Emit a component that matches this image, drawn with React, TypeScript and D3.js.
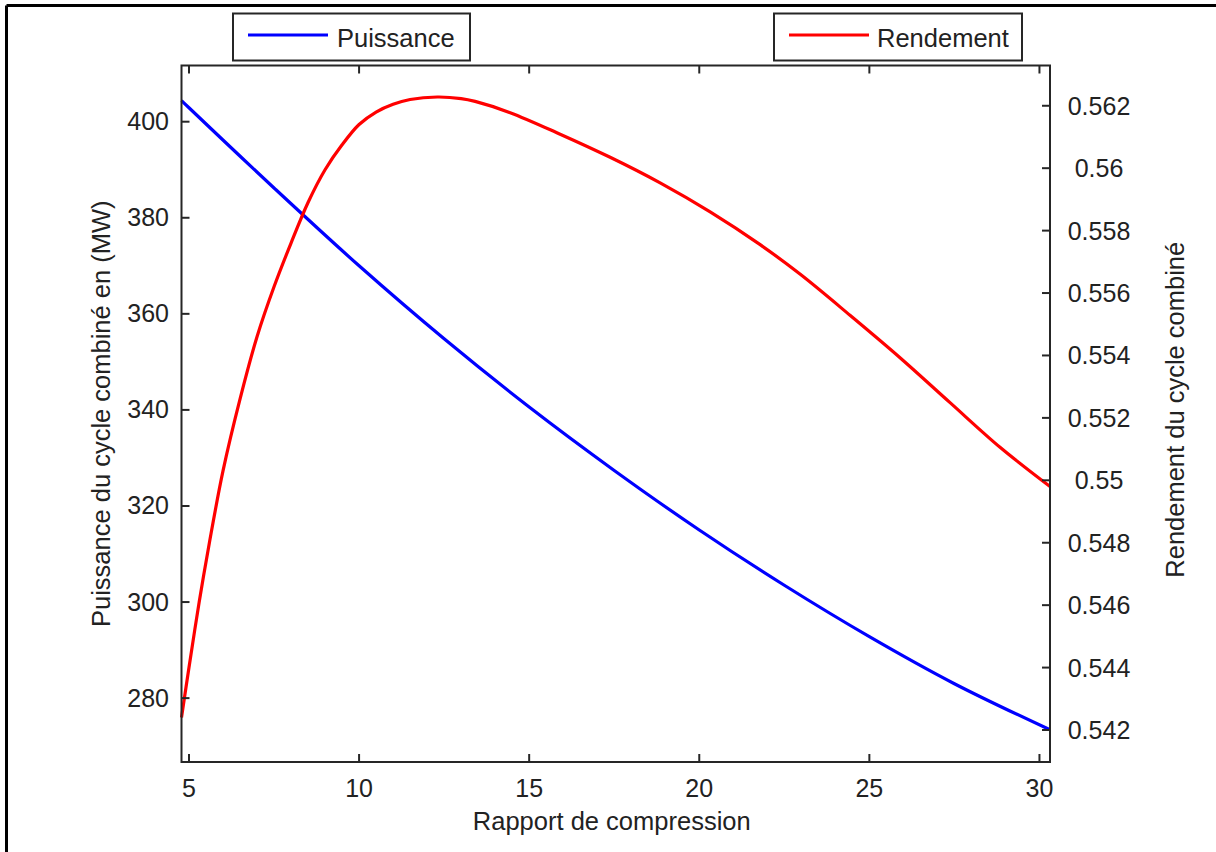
import React from "react";
import * as d3 from "d3";

// ---- Data ----
const puissanceX = [4.78, 5, 7.5, 10, 12.5, 15, 17.5, 20, 22.5, 25, 27.5, 30.31];
const puissanceY = [404.4, 402.9, 386.2, 370.0, 354.8, 340.6, 327.4, 315.0, 303.5, 292.8, 283.0, 273.4];

const rendementX = [4.78, 5.0, 5.3, 5.6, 6.0, 6.5, 7.0, 7.5, 8.0, 8.5, 9.0, 9.5, 10.0, 10.5, 11.0, 11.5, 12.3, 13.0, 13.41, 14.44, 15.91, 17.38, 18.85, 20.32, 21.79, 22.97, 24.44, 25.91, 27.38, 28.85, 30.31];
const rendementY = [0.5424, 0.544, 0.5461, 0.548, 0.5503, 0.5526, 0.5546, 0.5562, 0.5576, 0.5589, 0.55995, 0.56075, 0.5614, 0.5618, 0.56205, 0.5622, 0.56228, 0.56223, 0.56214, 0.56178, 0.56109, 0.56035, 0.55953, 0.5586, 0.55755, 0.5566, 0.55528, 0.55392, 0.55248, 0.55105, 0.5498];

const xTicks = [5, 10, 15, 20, 25, 30];
const leftTicks = [280, 300, 320, 340, 360, 380, 400];
const rightTicks = [0.542, 0.544, 0.546, 0.548, 0.55, 0.552, 0.554, 0.556, 0.558, 0.56, 0.562];
const rightTickLabels = ["0.542", "0.544", "0.546", "0.548", "0.55", "0.552", "0.554", "0.556", "0.558", "0.56", "0.562"];

const seriesNames = ["Puissance", "Rendement"];
const xLabel = "Rapport de compression";
const yLeftLabel = "Puissance du cycle combiné en (MW)";
const yRightLabel = "Rendement du cycle combiné";

export default function App() {
  const W = 1216, H = 852;
  const L = 181.5, R = 1050, T = 65.5, B = 762;
  const x = d3.scaleLinear().domain([4.78, 30.31]).range([L, R]);
  const yL = d3.scaleLinear().domain([266.7, 411.7]).range([B, T]);
  const yR = d3.scaleLinear().domain([0.540975, 0.56329]).range([B, T]);

  const pData = puissanceX.map((v, i) => [v, puissanceY[i]] as [number, number]);
  const rData = rendementX.map((v, i) => [v, rendementY[i]] as [number, number]);

  const lineP = d3.line<[number, number]>().x(d => x(d[0])).y(d => yL(d[1])).curve(d3.curveCatmullRom.alpha(0.5));
  const lineR = d3.line<[number, number]>().x(d => x(d[0])).y(d => yR(d[1])).curve(d3.curveCatmullRom.alpha(0.5));

  const font = "'Liberation Sans', Arial, sans-serif";
  const axisColor = "#262626";
  const tl = 8;

  return (
    <svg width={W} height={H} style={{ position: "absolute", left: 0, top: 0, background: "#fff" }} fontFamily={font}>
      <rect x={0} y={0} width={W} height={H} fill="#fff" />
      {/* outer frame (top & left visible) */}
      <line x1={6.5} y1={5.5} x2={W} y2={5.5} stroke="#000" strokeWidth={3} />
      <line x1={6.5} y1={5.5} x2={6.5} y2={H} stroke="#000" strokeWidth={3} />

      {/* series */}
      <path d={lineP(pData) || ""} fill="none" stroke="#0000ff" strokeWidth={3.2} />
      <path d={lineR(rData) || ""} fill="none" stroke="#ff0000" strokeWidth={3.2} />

      {/* axes box */}
      <rect x={L} y={T} width={R - L} height={B - T} fill="none" stroke={axisColor} strokeWidth={2} />

      {/* x ticks */}
      {xTicks.map(t => (
        <g key={"x" + t}>
          <line x1={x(t)} x2={x(t)} y1={B} y2={B - tl} stroke={axisColor} strokeWidth={2} />
          <line x1={x(t)} x2={x(t)} y1={T} y2={T + tl} stroke={axisColor} strokeWidth={2} />
          <text x={x(t)} y={796.5} textAnchor="middle" fontSize={25} fill="#222">{t}</text>
        </g>
      ))}

      {/* left ticks */}
      {leftTicks.map(t => (
        <g key={"l" + t}>
          <line x1={L} x2={L + tl} y1={yL(t)} y2={yL(t)} stroke={axisColor} strokeWidth={2} />
          <text x={169} y={yL(t) + 8.5} textAnchor="end" fontSize={25} fill="#222">{t}</text>
        </g>
      ))}

      {/* right ticks */}
      {rightTicks.map((t, i) => (
        <g key={"r" + t}>
          <line x1={R} x2={R - tl} y1={yR(t)} y2={yR(t)} stroke={axisColor} strokeWidth={2} />
          <text x={1099} y={yR(t) + 9} textAnchor="middle" fontSize={25} fill="#222">{rightTickLabels[i]}</text>
        </g>
      ))}

      {/* axis labels */}
      <text x={(L + R) / 2 - 4} y={830} textAnchor="middle" fontSize={25.5} fill="#222">{xLabel}</text>
      <text transform={`translate(110, ${(T + B) / 2}) rotate(-90)`} textAnchor="middle" fontSize={25.5} fill="#222">{yLeftLabel}</text>
      <text transform={`translate(1184, ${(T + B) / 2 - 4}) rotate(-90)`} textAnchor="middle" fontSize={25.5} fill="#222">{yRightLabel}</text>

      {/* legends */}
      <rect x={233} y={13.5} width={237} height={47} fill="#fff" stroke={axisColor} strokeWidth={2} />
      <line x1={248} x2={328} y1={35} y2={35} stroke="#0000ff" strokeWidth={3.2} />
      <text x={337} y={46.5} fontSize={25.5} fill="#222">{seriesNames[0]}</text>

      <rect x={774} y={13.5} width={248} height={47} fill="#fff" stroke={axisColor} strokeWidth={2} />
      <line x1={789} x2={869} y1={35} y2={35} stroke="#ff0000" strokeWidth={3.2} />
      <text x={877} y={46.5} fontSize={25.5} fill="#222">{seriesNames[1]}</text>
    </svg>
  );
}
